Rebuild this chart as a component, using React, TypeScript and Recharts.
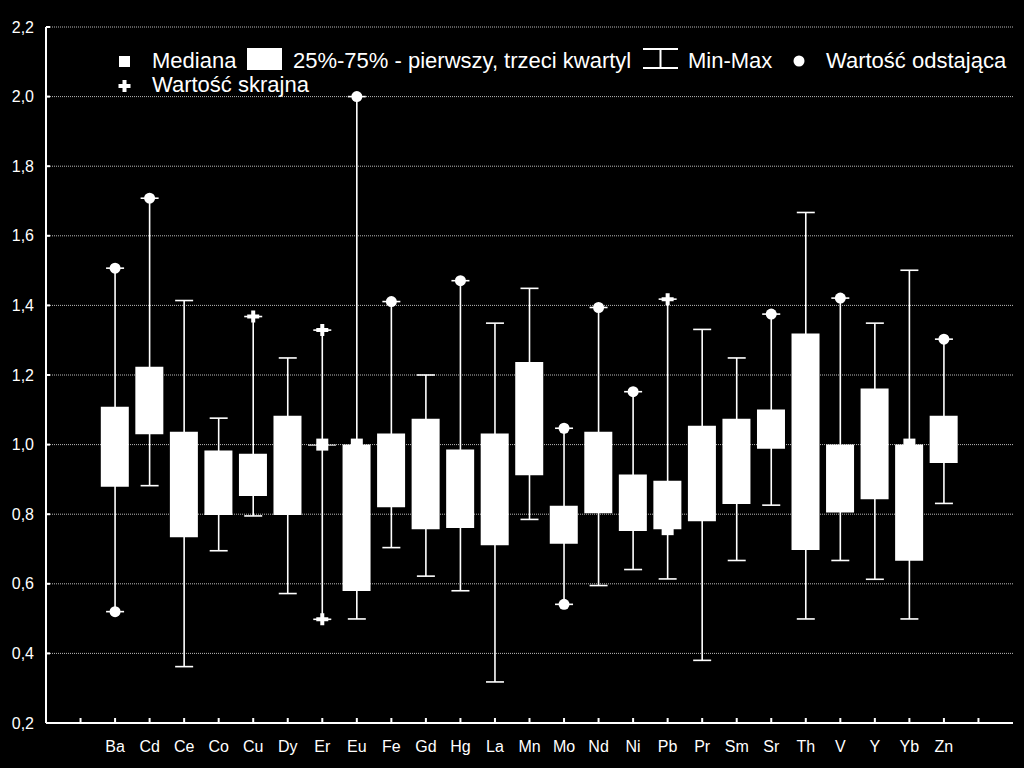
import { ComposedChart, Bar, Scatter, ErrorBar, XAxis, YAxis, CartesianGrid } from 'recharts'

const categories = ['Ba', 'Cd', 'Ce', 'Co', 'Cu', 'Dy', 'Er', 'Eu', 'Fe', 'Gd', 'Hg', 'La', 'Mn', 'Mo', 'Nd', 'Ni', 'Pb', 'Pr', 'Sm', 'Sr', 'Th', 'V', 'Y', 'Yb', 'Zn']

const mins = [0.52, 0.882, 0.362, 0.695, 0.795, 0.572, 0.498, 0.499, 0.704, 0.622, 0.58, 0.318, 0.785, 0.541, 0.595, 0.641, 0.614, 0.38, 0.667, 0.826, 0.499, 0.667, 0.613, 0.499, 0.831]
const q1s = [0.879, 1.03, 0.734, 0.798, 0.852, 0.798, 0.997, 0.579, 0.82, 0.757, 0.76, 0.711, 0.912, 0.715, 0.803, 0.752, 0.757, 0.78, 0.829, 0.988, 0.697, 0.805, 0.843, 0.666, 0.947]
const medians = [1.0, 1.1, 0.9, 0.9, 0.9, 0.95, 1.0, 1.0, 0.93, 0.9, 0.87, 0.85, 1.05, 0.77, 0.92, 0.83, 0.757, 0.92, 0.95, 1.04, 0.95, 0.9, 1.0, 1.0, 1.0]
const q3s = [1.109, 1.224, 1.037, 0.983, 0.974, 1.083, 1.0, 1.0, 1.032, 1.074, 0.986, 1.032, 1.237, 0.824, 1.037, 0.914, 0.896, 1.054, 1.074, 1.101, 1.319, 1.0, 1.161, 1.0, 1.083]
const maxs = [1.507, 1.708, 1.414, 1.076, 1.368, 1.249, 1.329, 2.0, 1.411, 1.2, 1.471, 1.349, 1.449, 1.047, 1.394, 1.152, 1.418, 1.331, 1.249, 1.375, 1.667, 1.421, 1.349, 1.501, 1.303]

// wartości odstające (kółka) i skrajne (plusy)
const outliers = [
  { name: 'Ba', v: 1.507 }, { name: 'Ba', v: 0.52 }, { name: 'Cd', v: 1.708 }, { name: 'Eu', v: 2.0 },
  { name: 'Fe', v: 1.411 }, { name: 'Hg', v: 1.471 }, { name: 'Mo', v: 1.047 }, { name: 'Mo', v: 0.541 },
  { name: 'Nd', v: 1.394 }, { name: 'Ni', v: 1.152 }, { name: 'Sr', v: 1.375 }, { name: 'V', v: 1.421 },
  { name: 'Zn', v: 1.303 },
]
const extremes = [
  { name: 'Cu', v: 1.368 }, { name: 'Er', v: 1.329 }, { name: 'Er', v: 0.498 }, { name: 'Pb', v: 1.418 },
]

const yTicks = [0.2, 0.4, 0.6, 0.8, 1.0, 1.2, 1.4, 1.6, 1.8, 2.0, 2.2]

const FONT = '"Liberation Sans", Arial, sans-serif'
const WHISKER = '#ffffff'

// slot 1 and the last slot stay empty, the elements sit on 2..26
const xOf = (name: string) => categories.indexOf(name) + 2
const xTicks = Array.from({ length: categories.length + 2 }, (_, k) => k + 1)

const rows = categories.map((name, i) => ({
  x: i + 2,
  name,
  med: medians[i],
  box: [q1s[i], q3s[i]],
  err: [medians[i] - mins[i], maxs[i] - medians[i]],
}))
const outlierRows = outliers.map((o) => ({ x: xOf(o.name), v: o.v }))
const extremeRows = extremes.map((o) => ({ x: xOf(o.name), v: o.v }))

const plusPath = (cx: number, cy: number) =>
  `M${cx - 2} ${cy - 6}h4v4h4v4h-4v4h-4v-4h-4v-4h4z`

const Nothing = () => <g />
const MedianSquare = (p: any) => <rect x={p.cx - 6} y={p.cy - 6} width={12} height={12} fill="#fff" />
const OutlierDot = (p: any) => <circle cx={p.cx} cy={p.cy} r={5.5} fill="#fff" />
const ExtremePlus = (p: any) => <path d={plusPath(p.cx, p.cy)} fill="#fff" />

const fmtY = (v: number) => v.toFixed(1).replace('.', ',')
const fmtX = (k: number) => categories[k - 2] ?? ''

function LegendOverlay() {
  const t = { fill: '#fff', fontFamily: FONT, fontSize: 22 }
  return (
    <svg width={1024} height={110} style={{ position: 'absolute', left: 0, top: 0, pointerEvents: 'none' }}>
      <rect x={119} y={56} width={11} height={11} fill="#fff" />
      <text x={152} y={68} {...t}>Mediana</text>
      <rect x={247} y={48} width={35} height={22} fill="#fff" />
      <text x={293} y={68} {...t}>25%-75% - pierwszy, trzeci kwartyl</text>
      <path d="M643 49H678M660.5 49V68M643 68H678" stroke="#fff" strokeWidth={2} fill="none" />
      <text x={688} y={68} {...t}>Min-Max</text>
      <circle cx={799} cy={61} r={5.5} fill="#fff" />
      <text x={826} y={68} {...t}>Wartość odstająca</text>
      <path d={plusPath(124.5, 86)} fill="#fff" />
      <text x={152} y={92} {...t}>Wartość skrajna</text>
    </svg>
  )
}

export default function App() {
  const tick = { fill: '#fff', fontSize: 16, fontFamily: FONT }
  const line = { stroke: '#fff', strokeWidth: 2 }
  return (
    <div style={{ position: 'absolute', left: 0, top: 0, width: 1024, height: 768, background: '#000' }}>
      <ComposedChart width={1024} height={768} data={rows} margin={{ top: 27, right: 11, bottom: 0, left: 0 }}>
        <CartesianGrid horizontal vertical={false} stroke="#b8b8b8" strokeDasharray="1 1" />
        <XAxis
          dataKey="x"
          type="number"
          domain={[0, categories.length + 3]}
          ticks={xTicks}
          interval={0}
          tickFormatter={fmtX}
          height={45}
          tick={tick}
          tickSize={-5}
          tickMargin={23}
          axisLine={line}
          tickLine={line}
        />
        <XAxis
          xAxisId="top"
          orientation="top"
          type="number"
          domain={[0, categories.length + 3]}
          ticks={xTicks}
          interval={0}
          height={0}
          tick={false}
          tickSize={-4}
          axisLine={line}
          tickLine={line}
        />
        <YAxis
          type="number"
          domain={[0.2, 2.2]}
          ticks={yTicks}
          interval={0}
          tickFormatter={fmtY}
          width={46}
          tick={tick}
          tickSize={-4}
          tickMargin={16}
          axisLine={line}
          tickLine={line}
        />
        <YAxis
          yAxisId="right"
          orientation="right"
          type="number"
          domain={[0.2, 2.2]}
          ticks={yTicks}
          interval={0}
          width={0}
          tick={false}
          tickSize={-5}
          axisLine={line}
          tickLine={line}
        />
        <Scatter data={rows} dataKey="med" shape={Nothing} isAnimationActive={false}>
          <ErrorBar dataKey="err" direction="y" width={9} stroke={WHISKER} strokeWidth={1.6} />
        </Scatter>
        <Bar dataKey="box" barSize={28} fill="#fff" isAnimationActive={false} />
        <Scatter data={rows} dataKey="med" shape={MedianSquare} isAnimationActive={false} />
        <Scatter data={outlierRows} dataKey="v" shape={OutlierDot} isAnimationActive={false} />
        <Scatter data={extremeRows} dataKey="v" shape={ExtremePlus} isAnimationActive={false} />
      </ComposedChart>
      <LegendOverlay />
    </div>
  )
}
